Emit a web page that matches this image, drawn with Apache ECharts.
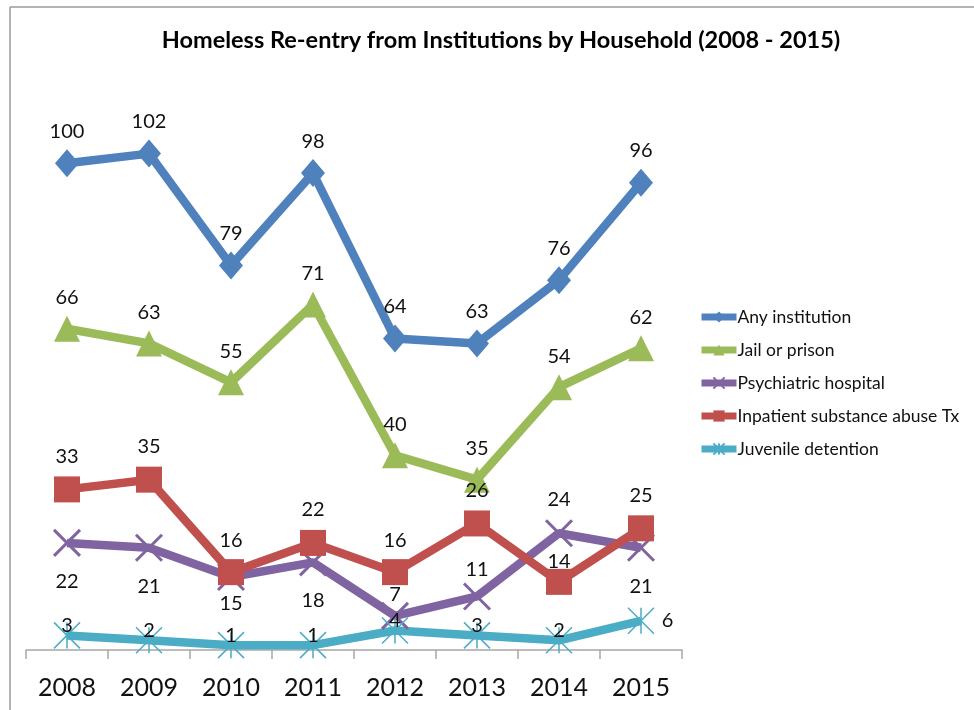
<!DOCTYPE html>
<html>
<head>
<meta charset="utf-8">
<script src="https://cdn.jsdelivr.net/npm/echarts@6/dist/echarts.min.js"></script>
<style>
    html, body { margin: 0; padding: 0; background: #fff; }
    #chart { width: 974px; height: 710px; }
</style>
</head>
<body>
<div id="chart"></div>
<script>
var years = ['2008', '2009', '2010', '2011', '2012', '2013', '2014', '2015'];
var anyInstitution = [100, 102, 79, 98, 64, 63, 76, 96];
var jailPrison = [66, 63, 55, 71, 40, 35, 54, 62];
var psychHospital = [22, 21, 15, 18, 7, 11, 24, 21];
var substanceAbuse = [33, 35, 16, 22, 16, 26, 14, 25];
var juvenileDetention = [3, 2, 1, 1, 4, 3, 2, 6];

// where Excel put the value labels
var psychLabelPos = ['bottom', 'bottom', 'bottom', 'bottom', 'top', 'top', 'top', 'bottom'];
var psychLabelDist = [14, 14, 2, 14, -3, 2, 9, 14];
var substanceLabelDist = [10, 10, 9, 10, 9, 10, -3, 10];
var juvenileLabelPos = ['top', 'top', 'top', 'top', 'top', 'top', 'top', 'right'];
var juvenileLabelDist = [-14, -14, -14, -14, -14, -14, -14, 7];

var FONT = 'Lato';

/***
 * 生成带标签位置的数据点
 */
function withLabels(values, positions, distances) {
    return values.map(function (v, i) {
        var item = {value: v, label: {}};
        if (positions) item.label.position = positions[i];
        if (distances) item.label.distance = distances[i];
        return item;
    });
}

function lineSeries(name, color, data, symbol, extra) {
    var s = {
        name: name,
        type: 'line',
        data: data,
        symbol: symbol,
        symbolSize: 26,
        lineStyle: {color: color, width: 8.5},
        itemStyle: {color: color},
        label: {
            show: true,
            position: 'top',
            distance: 8,
            color: '#111',
            fontFamily: FONT,
            fontSize: 20
        },
        emphasis: {disabled: true}
    };
    if (extra) {
        for (var k in extra) s[k] = extra[k];
    }
    return s;
}

var chart = echarts.init(document.getElementById('chart'));
var option = {
    animation: false,
    backgroundColor: '#fff',
    title: {
        text: 'Homeless Re-entry from Institutions by Household (2008 - 2015)',
        left: 496,
        textAlign: 'center',
        top: 23,
        textStyle: {fontFamily: FONT, fontSize: 23.5, fontWeight: 'bold', color: '#000'}
    },
    legend: {
        orient: 'vertical',
        left: 693,
        top: 303,
        itemWidth: 35,
        itemHeight: 14,
        itemGap: 15,
        lineStyle: {width: 7},
        textStyle: {fontFamily: FONT, fontSize: 17.5, color: '#111', padding: [0, 0, 0, -4]},
        data: ['Any institution', 'Jail or prison', 'Psychiatric hospital',
            'Inpatient substance abuse Tx', 'Juvenile detention']
    },
    grid: {left: 26, right: 292, top: 66, bottom: 60},
    xAxis: {
        type: 'category',
        data: years,
        boundaryGap: true,
        axisLine: {lineStyle: {color: '#a6a6a6', width: 1.5}},
        axisTick: {show: true, length: 9, lineStyle: {color: '#a6a6a6', width: 1.5}},
        axisLabel: {fontFamily: FONT, fontSize: 25, color: '#111', margin: 25}
    },
    yAxis: {
        type: 'value',
        min: 0,
        max: 120,
        show: false
    },
    graphic: [
        {type: 'line', shape: {x1: 10, y1: 7, x2: 974, y2: 7}, style: {stroke: '#9a9a9a', lineWidth: 1.5}},
        {type: 'line', shape: {x1: 10, y1: 7, x2: 10, y2: 710}, style: {stroke: '#9a9a9a', lineWidth: 1.5}}
    ],
    series: [
        lineSeries('Any institution', '#4F81BD', anyInstitution, 'diamond', {symbolSize: [24, 28]}),
        lineSeries('Jail or prison', '#9BBB59', jailPrison, 'triangle'),
        lineSeries('Psychiatric hospital', '#8064A2',
            withLabels(psychHospital, psychLabelPos, psychLabelDist),
            'path://M0,0L20,20M20,0L0,20',
            {itemStyle: {color: 'transparent', borderColor: '#8064A2', borderWidth: 3}}),
        lineSeries('Inpatient substance abuse Tx', '#C0504D',
            withLabels(substanceAbuse, null, substanceLabelDist), 'rect'),
        lineSeries('Juvenile detention', '#4BACC6',
            withLabels(juvenileDetention, juvenileLabelPos, juvenileLabelDist),
            'path://M0,0L20,20M20,0L0,20M10,0L10,20',
            {itemStyle: {color: 'transparent', borderColor: '#4BACC6', borderWidth: 1.5}})
    ]
};
chart.setOption(option);
</script>
</body>
</html>
